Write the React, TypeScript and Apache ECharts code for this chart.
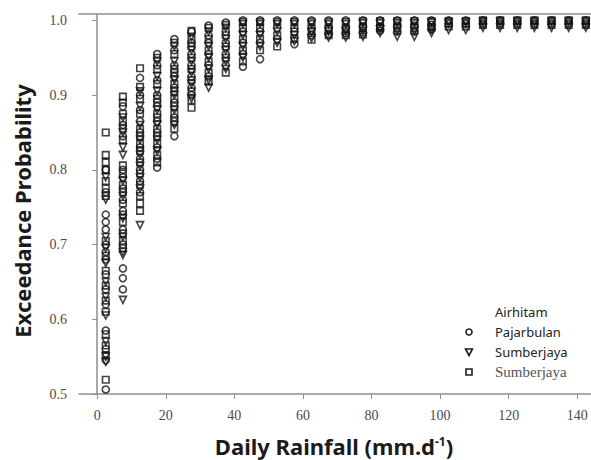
import React, { useEffect, useRef } from "react";
import * as echarts from "echarts";

const rainfallBins = [2.5, 7.5, 12.5, 17.5, 22.5, 27.5, 32.5, 37.5, 42.5, 47.5, 52.5, 57.5, 62.5, 67.5, 72.5, 77.5, 82.5, 87.5, 92.5, 97.5, 102.5, 107.5, 112.5, 117.5, 122.5, 127.5, 132.5, 137.5, 142.5];

const xTickLabels = [0, 20, 40, 60, 80, 100, 120, 140];
const yTickLabels = [0.5, 0.6, 0.7, 0.8, 0.9, 1.0];

// Pajarbulan (circles), one list per rainfall bin
const pajarbulan: number[][] = [
  [0.80, 0.77, 0.74, 0.73, 0.72, 0.70, 0.69, 0.68, 0.66, 0.64, 0.62, 0.585, 0.56, 0.545, 0.506],
  [0.885, 0.86, 0.845, 0.80, 0.79, 0.775, 0.76, 0.745, 0.72, 0.70, 0.668, 0.655, 0.64],
  [0.923, 0.90, 0.88, 0.865, 0.85, 0.83, 0.815, 0.80, 0.785, 0.77],
  [0.955, 0.94, 0.92, 0.90, 0.885, 0.865, 0.85, 0.83, 0.815, 0.803],
  [0.975, 0.96, 0.94, 0.925, 0.91, 0.89, 0.87, 0.845],
  [0.985, 0.97, 0.955, 0.94, 0.925, 0.91, 0.90],
  [0.993, 0.98, 0.97, 0.955, 0.94, 0.925],
  [0.997, 0.985, 0.97, 0.955, 0.94],
  [1.0, 0.985, 0.97, 0.955, 0.938],
  [1.0, 0.985, 0.97, 0.948],
  [1.0, 0.99, 0.975],
  [1.0, 0.99, 0.968],
  [1.0, 0.99, 0.98],
  [1.0, 0.99, 0.982],
  [1.0, 0.99, 0.983],
  [1.0, 0.992, 0.984],
  [1.0, 0.992, 0.986],
  [1.0, 0.993, 0.985],
  [1.0, 0.993, 0.985],
  [1.0, 0.994, 0.988],
  [1.0, 0.995],
  [1.0, 0.995],
  [1.0, 0.996],
  [1.0, 0.996],
  [1.0, 0.996],
  [1.0, 0.996],
  [1.0, 0.996],
  [1.0, 0.996],
  [1.0, 0.996],
];

// Sumberjaya (down triangles)
const sumberjayaTri: number[][] = [
  [0.79, 0.76, 0.71, 0.695, 0.675, 0.65, 0.63, 0.605, 0.57, 0.55, 0.543],
  [0.87, 0.85, 0.83, 0.82, 0.785, 0.765, 0.735, 0.71, 0.69, 0.686, 0.626],
  [0.905, 0.885, 0.86, 0.84, 0.82, 0.805, 0.79, 0.775, 0.726],
  [0.945, 0.925, 0.905, 0.88, 0.86, 0.84, 0.825],
  [0.965, 0.945, 0.92, 0.90, 0.88, 0.86],
  [0.978, 0.96, 0.945, 0.93, 0.915, 0.895],
  [0.985, 0.965, 0.95, 0.935, 0.92, 0.91],
  [0.99, 0.975, 0.96, 0.945, 0.935],
  [0.995, 0.98, 0.965, 0.95],
  [0.995, 0.98, 0.965],
  [0.995, 0.985, 0.97],
  [0.995, 0.98, 0.972],
  [0.995, 0.984, 0.976],
  [0.995, 0.985, 0.977],
  [0.995, 0.985, 0.977],
  [0.996, 0.986, 0.978],
  [0.996, 0.988, 0.983],
  [0.996, 0.986, 0.978],
  [0.996, 0.986, 0.978],
  [0.997, 0.988, 0.983],
  [0.997, 0.987],
  [0.997, 0.987],
  [0.998, 0.99],
  [0.998, 0.99],
  [0.998, 0.99],
  [0.998, 0.99],
  [0.998, 0.99],
  [0.998, 0.99],
  [0.998, 0.99],
];

// Sumberjaya (squares)
const sumberjayaSq: number[][] = [
  [0.85, 0.82, 0.81, 0.80, 0.785, 0.775, 0.765, 0.705, 0.685, 0.665, 0.645, 0.625, 0.61, 0.58, 0.565, 0.552, 0.519],
  [0.898, 0.89, 0.875, 0.865, 0.855, 0.84, 0.806, 0.795, 0.78, 0.77, 0.755, 0.74, 0.73, 0.715, 0.705, 0.695],
  [0.936, 0.911, 0.895, 0.875, 0.855, 0.845, 0.835, 0.825, 0.81, 0.795, 0.78, 0.765, 0.755, 0.745],
  [0.95, 0.935, 0.915, 0.895, 0.89, 0.875, 0.87, 0.855, 0.845, 0.835, 0.82, 0.81],
  [0.97, 0.955, 0.935, 0.93, 0.915, 0.905, 0.895, 0.885, 0.875, 0.865, 0.855],
  [0.986, 0.975, 0.965, 0.95, 0.935, 0.92, 0.905, 0.893, 0.883],
  [0.99, 0.975, 0.96, 0.945, 0.93, 0.918],
  [0.994, 0.98, 0.965, 0.95, 0.93],
  [0.998, 0.99, 0.975, 0.96, 0.945],
  [0.998, 0.99, 0.975, 0.96],
  [0.998, 0.98, 0.965],
  [0.998, 0.985, 0.975],
  [0.998, 0.986, 0.974],
  [0.998, 0.988, 0.98],
  [0.998, 0.988, 0.98],
  [0.999, 0.99, 0.981],
  [0.999, 0.99],
  [0.999, 0.99],
  [0.999, 0.99],
  [0.999, 0.991],
  [0.999, 0.992],
  [0.999, 0.992],
  [1.0, 0.994],
  [1.0, 0.994],
  [1.0, 0.994],
  [1.0, 0.994],
  [1.0, 0.994],
  [1.0, 0.994],
  [1.0, 0.994],
];

const toPoints = (cols: number[][]) =>
  cols.flatMap((vals, i) => vals.map((v) => [rainfallBins[i], v]));

export default function App() {
  const ref = useRef<HTMLDivElement>(null);
  useEffect(() => {
    if (!ref.current) return;
    const chart = echarts.init(ref.current, null, { renderer: "svg" });
    const axisColor = "#8e8e8e";
    const labelFont = { fontFamily: "Liberation Serif", fontSize: 14, color: "#4a4a4a" };
    const markerStyle = { color: "rgba(255,255,255,0)", borderColor: "#141414", borderWidth: 1.6 };
    chart.setOption({
      animation: false,
      backgroundColor: "#fff",
      grid: { left: 79, right: 0, top: 14, bottom: 66 },
      xAxis: [
        {
          type: "value",
          min: -5.3,
          max: 144,
          splitLine: { show: false },
          axisLine: { show: true, lineStyle: { color: axisColor, width: 1.5 } },
          axisTick: { show: true, length: 5, lineStyle: { color: axisColor }, customValues: xTickLabels },
          axisLabel: { ...labelFont, margin: 14, customValues: xTickLabels, formatter: (v: number) => String(v) },
        },
        {
          type: "value",
          position: "top",
          min: -5.3,
          max: 144,
          splitLine: { show: false },
          axisLine: { show: true, onZero: false, lineStyle: { color: axisColor, width: 1.5 } },
          axisTick: { show: false },
          axisLabel: { show: false },
        },
      ],
      yAxis: {
        type: "value",
        min: 0.5,
        max: 1.0085,
        splitLine: { show: false },
        axisLine: { show: true, lineStyle: { color: axisColor, width: 1.5 } },
        axisTick: { show: true, length: 5, lineStyle: { color: axisColor }, customValues: yTickLabels },
        axisLabel: { ...labelFont, margin: 12, customValues: yTickLabels, formatter: (v: number) => v.toFixed(1) },
      },
      series: [
        {
          name: "Sumberjaya (square)",
          type: "scatter",
          symbol: "rect",
          symbolSize: 6.5,
          itemStyle: markerStyle,
          data: toPoints(sumberjayaSq),
        },
        {
          name: "Pajarbulan",
          type: "scatter",
          symbol: "circle",
          symbolSize: 7,
          itemStyle: markerStyle,
          data: toPoints(pajarbulan),
        },
        {
          name: "Sumberjaya",
          type: "scatter",
          symbol: "triangle",
          symbolRotate: 180,
          symbolSize: 7,
          itemStyle: markerStyle,
          data: toPoints(sumberjayaTri),
        },
      ],
      graphic: [
        {
          type: "text",
          x: 22,
          y: 211,
          rotation: Math.PI / 2,
          style: {
            text: "Exceedance Probability",
            font: "bold 22px 'Noto Sans'",
            fill: "#1a1a1a",
            textAlign: "center",
            textVerticalAlign: "middle",
          },
        },
        {
          type: "text",
          x: 334,
          y: 446,
          style: {
            text: "Daily Rainfall (mm.d{sup|-1})",
            font: "bold 22px 'Noto Sans'",
            fill: "#1a1a1a",
            textAlign: "center",
            textVerticalAlign: "middle",
            rich: {
              sup: { fontSize: 12, fontWeight: "bold", fontFamily: "Noto Sans", fill: "#1a1a1a", verticalAlign: "top" },
            },
          },
        },
        { type: "text", x: 495, y: 312, style: { text: "Airhitam", font: "13px 'Noto Sans'", fill: "#222", textVerticalAlign: "middle" } },
        { type: "text", x: 495, y: 332, style: { text: "Pajarbulan", font: "13px 'Noto Sans'", fill: "#222", textVerticalAlign: "middle" } },
        { type: "text", x: 495, y: 352, style: { text: "Sumberjaya", font: "13px 'Noto Sans'", fill: "#222", textVerticalAlign: "middle" } },
        { type: "text", x: 495, y: 372, style: { text: "Sumberjaya", font: "15px 'Liberation Serif'", fill: "#555", textVerticalAlign: "middle" } },
        { type: "circle", shape: { cx: 469, cy: 332, r: 3 }, style: { fill: "none", stroke: "#1e1e1e", lineWidth: 1.6 } },
        { type: "polygon", shape: { points: [[465.5, 349], [472.5, 349], [469, 355.5]] }, style: { fill: "none", stroke: "#1e1e1e", lineWidth: 1.6 } },
        { type: "rect", shape: { x: 466, y: 369, width: 6, height: 6 }, style: { fill: "none", stroke: "#1e1e1e", lineWidth: 1.6 } },
      ],
    });
    return () => chart.dispose();
  }, []);
  return <div ref={ref} style={{ position: "fixed", left: 0, top: 0, width: 591, height: 460 }} />;
}
